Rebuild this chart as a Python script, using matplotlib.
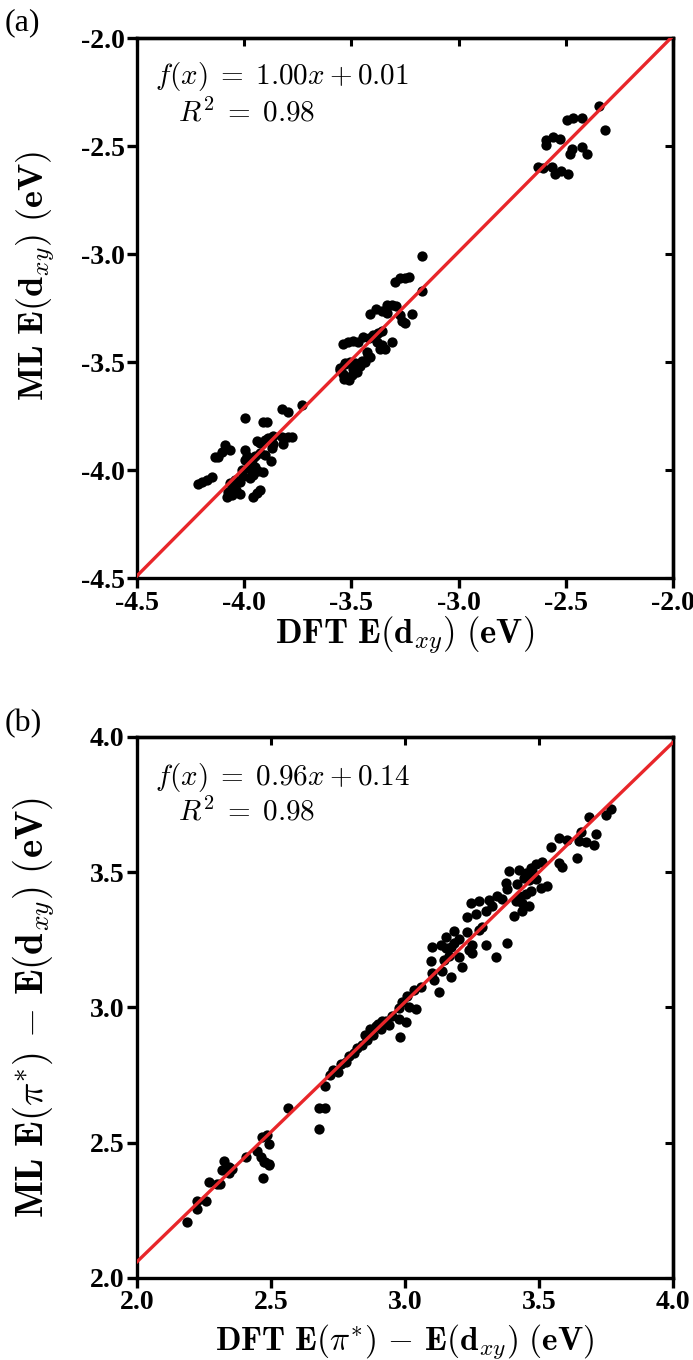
import numpy as np
import matplotlib
matplotlib.use("Agg")
import matplotlib.pyplot as plt

plt.rcParams['font.family'] = ['Liberation Serif', 'DejaVu Serif']
plt.rcParams['axes.unicode_minus'] = False

# ---- panel (a): E(d_xy), DFT vs ML ----
a_dft = [-2.345, -2.317, -2.496, -2.465, -2.426, -2.590, -2.558, -2.527, -2.590, -2.473,
         -2.426, -2.403, -2.481, -2.628, -2.605, -2.566, -2.551, -2.520, -2.489,
         -3.169, -3.172, -3.296, -3.273, -3.250, -3.229, -3.413, -3.385, -3.358, -3.335,
         -3.312, -3.291, -3.335, -3.273, -3.265, -3.250, -3.219, -3.537, -3.514, -3.491,
         -3.467, -3.444, -3.420, -3.397, -3.374, -3.358, -3.382, -3.358, -3.343, -3.312,
         -3.428, -3.413, -3.436, -3.459, -3.553, -3.529, -3.506, -3.491, -3.475, -3.537,
         -3.498, -3.553, -3.530, -3.483, -3.452, -3.421, -3.366, -3.534, -3.509, -3.483,
         -3.729, -3.825, -3.794, -3.996, -3.911, -3.895, -3.864, -3.825, -3.794, -3.778,
         -3.887, -3.903, -3.926, -3.942, -3.864, -3.872, -3.818, -4.089, -4.066, -4.105,
         -4.121, -4.136, -3.996, -3.988, -3.996, -3.965, -3.950, -3.927, -3.904, -3.875,
         -3.950, -3.934, -3.911, -3.958, -3.973, -4.198, -4.175, -4.151, -4.214, -4.066,
         -4.051, -4.074, -4.058, -4.082, -4.036, -4.020, -4.004, -4.012, -3.980, -3.965,
         -3.958, -3.942, -3.927, -4.043, -4.020]
a_ml = [-2.315, -2.425, -2.379, -2.369, -2.368, -2.470, -2.460, -2.468, -2.493, -2.514,
        -2.505, -2.536, -2.538, -2.598, -2.600, -2.597, -2.631, -2.615, -2.631,
        -3.011, -3.170, -3.130, -3.110, -3.110, -3.106, -3.276, -3.255, -3.263, -3.235,
        -3.238, -3.242, -3.275, -3.280, -3.310, -3.320, -3.277, -3.417, -3.406, -3.402,
        -3.408, -3.385, -3.390, -3.376, -3.364, -3.357, -3.407, -3.422, -3.440, -3.406,
        -3.454, -3.478, -3.501, -3.517, -3.535, -3.510, -3.502, -3.534, -3.546, -3.557,
        -3.561, -3.529, -3.505, -3.504, -3.496, -3.473, -3.440, -3.577, -3.582, -3.546,
        -3.699, -3.718, -3.730, -3.761, -3.778, -3.778, -3.842, -3.849, -3.845, -3.849,
        -3.851, -3.859, -3.874, -3.867, -3.881, -3.897, -3.881, -3.883, -3.907, -3.915,
        -3.939, -3.941, -3.906, -3.937, -3.953, -3.952, -3.934, -3.922, -3.930, -3.959,
        -3.984, -4.006, -4.007, -4.023, -4.038, -4.056, -4.048, -4.031, -4.064, -4.062,
        -4.085, -4.101, -4.116, -4.125, -4.094, -4.054, -4.030, -4.000, -3.990, -4.006,
        -4.123, -4.107, -4.092, -4.046, -4.109]

# ---- panel (b): E(pi*) - E(d_xy), DFT vs ML ----
b_dft = [2.185, 2.223, 2.223, 2.256, 2.270, 2.298, 2.311, 2.323, 2.344, 2.356,
         2.318, 2.343, 2.405, 2.449, 2.461, 2.474, 2.492, 2.486, 2.468, 2.492,
         2.471, 2.478, 2.494, 2.563,
         2.680, 2.680, 2.700, 2.700, 2.720, 2.730, 2.750, 2.760, 2.780, 2.790,
         2.810, 2.820, 2.840, 2.850, 2.860, 2.870, 2.880, 2.890, 2.900, 2.910,
         2.930, 2.980,
         2.940, 2.915, 2.978, 3.002, 2.953, 2.990, 3.015, 3.040, 2.978, 3.009,
         3.034, 3.058, 3.127, 3.108, 3.102, 3.139, 3.170, 3.214, 3.202, 3.164,
         3.146, 3.096, 3.338, 3.382, 3.301, 3.251, 3.239, 3.251, 3.170, 3.152,
         3.133, 3.102, 3.183, 3.202, 3.152, 3.289, 3.276, 3.233, 3.183, 3.233,
         3.264, 3.301, 3.326, 3.363, 3.245, 3.276, 3.313, 3.345, 3.407, 3.438,
         3.463, 3.438, 3.413, 3.531, 3.506, 3.425, 3.450, 3.469, 3.419, 3.382,
         3.376, 3.488, 3.463, 3.444, 3.475, 3.450, 3.425, 3.388, 3.587, 3.575,
         3.469, 3.488, 3.512, 3.544, 3.606, 3.575, 3.643, 3.705, 3.711, 3.674,
         3.649, 3.656, 3.687, 3.749, 3.767]
b_ml = [2.207, 2.286, 2.255, 2.286, 2.356, 2.346, 2.347, 2.434, 2.412, 2.402,
        2.398, 2.389, 2.449, 2.469, 2.446, 2.428, 2.417, 2.527, 2.520, 2.496,
        2.370, 2.430, 2.420, 2.630,
        2.550, 2.630, 2.630, 2.710, 2.750, 2.770, 2.760, 2.790, 2.800, 2.820,
        2.830, 2.850, 2.860, 2.900, 2.880, 2.920, 2.900, 2.930, 2.940, 2.920,
        2.950, 2.890,
        2.936, 2.951, 2.956, 2.945, 2.970, 3.022, 3.000, 2.995, 2.999, 3.042,
        3.065, 3.076, 3.058, 3.102, 3.126, 3.134, 3.111, 3.150, 3.186, 3.189,
        3.177, 3.173, 3.187, 3.240, 3.232, 3.201, 3.212, 3.231, 3.225, 3.219,
        3.230, 3.222, 3.239, 3.255, 3.261, 3.297, 3.285, 3.279, 3.284, 3.333,
        3.346, 3.355, 3.374, 3.400, 3.385, 3.395, 3.397, 3.412, 3.338, 3.357,
        3.376, 3.387, 3.392, 3.450, 3.440, 3.412, 3.418, 3.431, 3.458, 3.439,
        3.462, 3.475, 3.472, 3.477, 3.504, 3.496, 3.509, 3.506, 3.520, 3.535,
        3.515, 3.529, 3.536, 3.595, 3.621, 3.627, 3.553, 3.599, 3.643, 3.612,
        3.617, 3.650, 3.704, 3.710, 3.732]

fit_a = (1.00, 0.01)
fit_b = (0.96, 0.14)
lim_a = (-4.5, -2.0)
lim_b = (2.0, 4.0)
ticks_a = [-4.5, -4.0, -3.5, -3.0, -2.5, -2.0]
ticks_b = [2.0, 2.5, 3.0, 3.5, 4.0]

red = '#e8262a'
tick_font = dict(family='Liberation Serif', weight='bold', size=20)


def style(ax, lim, ticks):
    ax.set_xlim(lim)
    ax.set_ylim(lim)
    ax.set_xticks(ticks)
    ax.set_yticks(ticks)
    ax.set_xticklabels([f'{t:.1f}' for t in ticks], fontdict=tick_font)
    ax.set_yticklabels([f'{t:.1f}' for t in ticks], fontdict=tick_font)
    for s in ax.spines.values():
        s.set_linewidth(2.4)
    ax.tick_params(direction='out', length=7, width=2.4, pad=2)
    # inward ticks on top and right
    top = ax.secondary_xaxis('top')
    top.set_xticks(ticks)
    top.set_xticklabels([])
    top.tick_params(direction='in', length=6, width=2.2)
    top.spines['top'].set_linewidth(2.4)
    right = ax.secondary_yaxis('right')
    right.set_yticks(ticks)
    right.set_yticklabels([])
    right.tick_params(direction='in', length=6, width=2.2)
    right.spines['right'].set_linewidth(2.4)


fig = plt.figure(figsize=(6.93, 13.6), dpi=100)
ax1 = fig.add_axes([0.1977, 0.575, 0.7734, 0.397])
ax2 = fig.add_axes([0.1977, 0.0603, 0.7734, 0.3978])

# (a)
ax1.scatter(a_dft, a_ml, s=55, c='black', linewidths=0, zorder=2)
xx = np.array(lim_a)
ax1.plot(xx, fit_a[0] * xx + fit_a[1], color=red, lw=2.4, zorder=3)
style(ax1, lim_a, ticks_a)
ax1.text(0.034, 0.915, r'$f(x)\;=\;1.00x + 0.01$', transform=ax1.transAxes,
         fontsize=21, math_fontfamily='cm')
ax1.text(0.077, 0.845, r'$R^2\;=\;0.98$', transform=ax1.transAxes,
         fontsize=21, math_fontfamily='cm')
ax1.set_xlabel(r'$\mathbf{DFT\ E(d}_{xy}\mathbf{)\ (eV)}$', fontsize=25,
               math_fontfamily='cm')
ax1.xaxis.set_label_coords(0.5, -0.068)
ax1.set_ylabel(r'$\mathbf{ML\ E(d}_{xy}\mathbf{)\ (eV)}$', fontsize=26,
               math_fontfamily='cm')
ax1.yaxis.set_label_coords(-0.15, 0.56)
fig.text(0.007, 0.978, '(a)', fontsize=23, family='Liberation Serif')

# (b)
ax2.scatter(b_dft, b_ml, s=55, c='black', linewidths=0, zorder=2)
xx = np.array(lim_b)
ax2.plot(xx, fit_b[0] * xx + fit_b[1], color=red, lw=2.4, zorder=3)
style(ax2, lim_b, ticks_b)
ax2.text(0.034, 0.912, r'$f(x)\;=\;0.96x + 0.14$', transform=ax2.transAxes,
         fontsize=21, math_fontfamily='cm')
ax2.text(0.077, 0.845, r'$R^2\;=\;0.98$', transform=ax2.transAxes,
         fontsize=21, math_fontfamily='cm')
ax2.set_xlabel(r'$\mathbf{DFT\ E(}\pi^{*}\mathbf{)}\,-\,\mathbf{E(d}_{xy}\mathbf{)\ (eV)}$',
               fontsize=24, math_fontfamily='cm')
ax2.xaxis.set_label_coords(0.5, -0.081)
ax2.set_ylabel(r'$\mathbf{ML\ E(}\pi^{*}\mathbf{)}\,-\,\mathbf{E(d}_{xy}\mathbf{)\ (eV)}$',
               fontsize=28, math_fontfamily='cm')
ax2.yaxis.set_label_coords(-0.15, 0.5)
fig.text(0.007, 0.462, '(b)', fontsize=23, family='Liberation Serif')

fig.savefig('out.png', dpi=100)
